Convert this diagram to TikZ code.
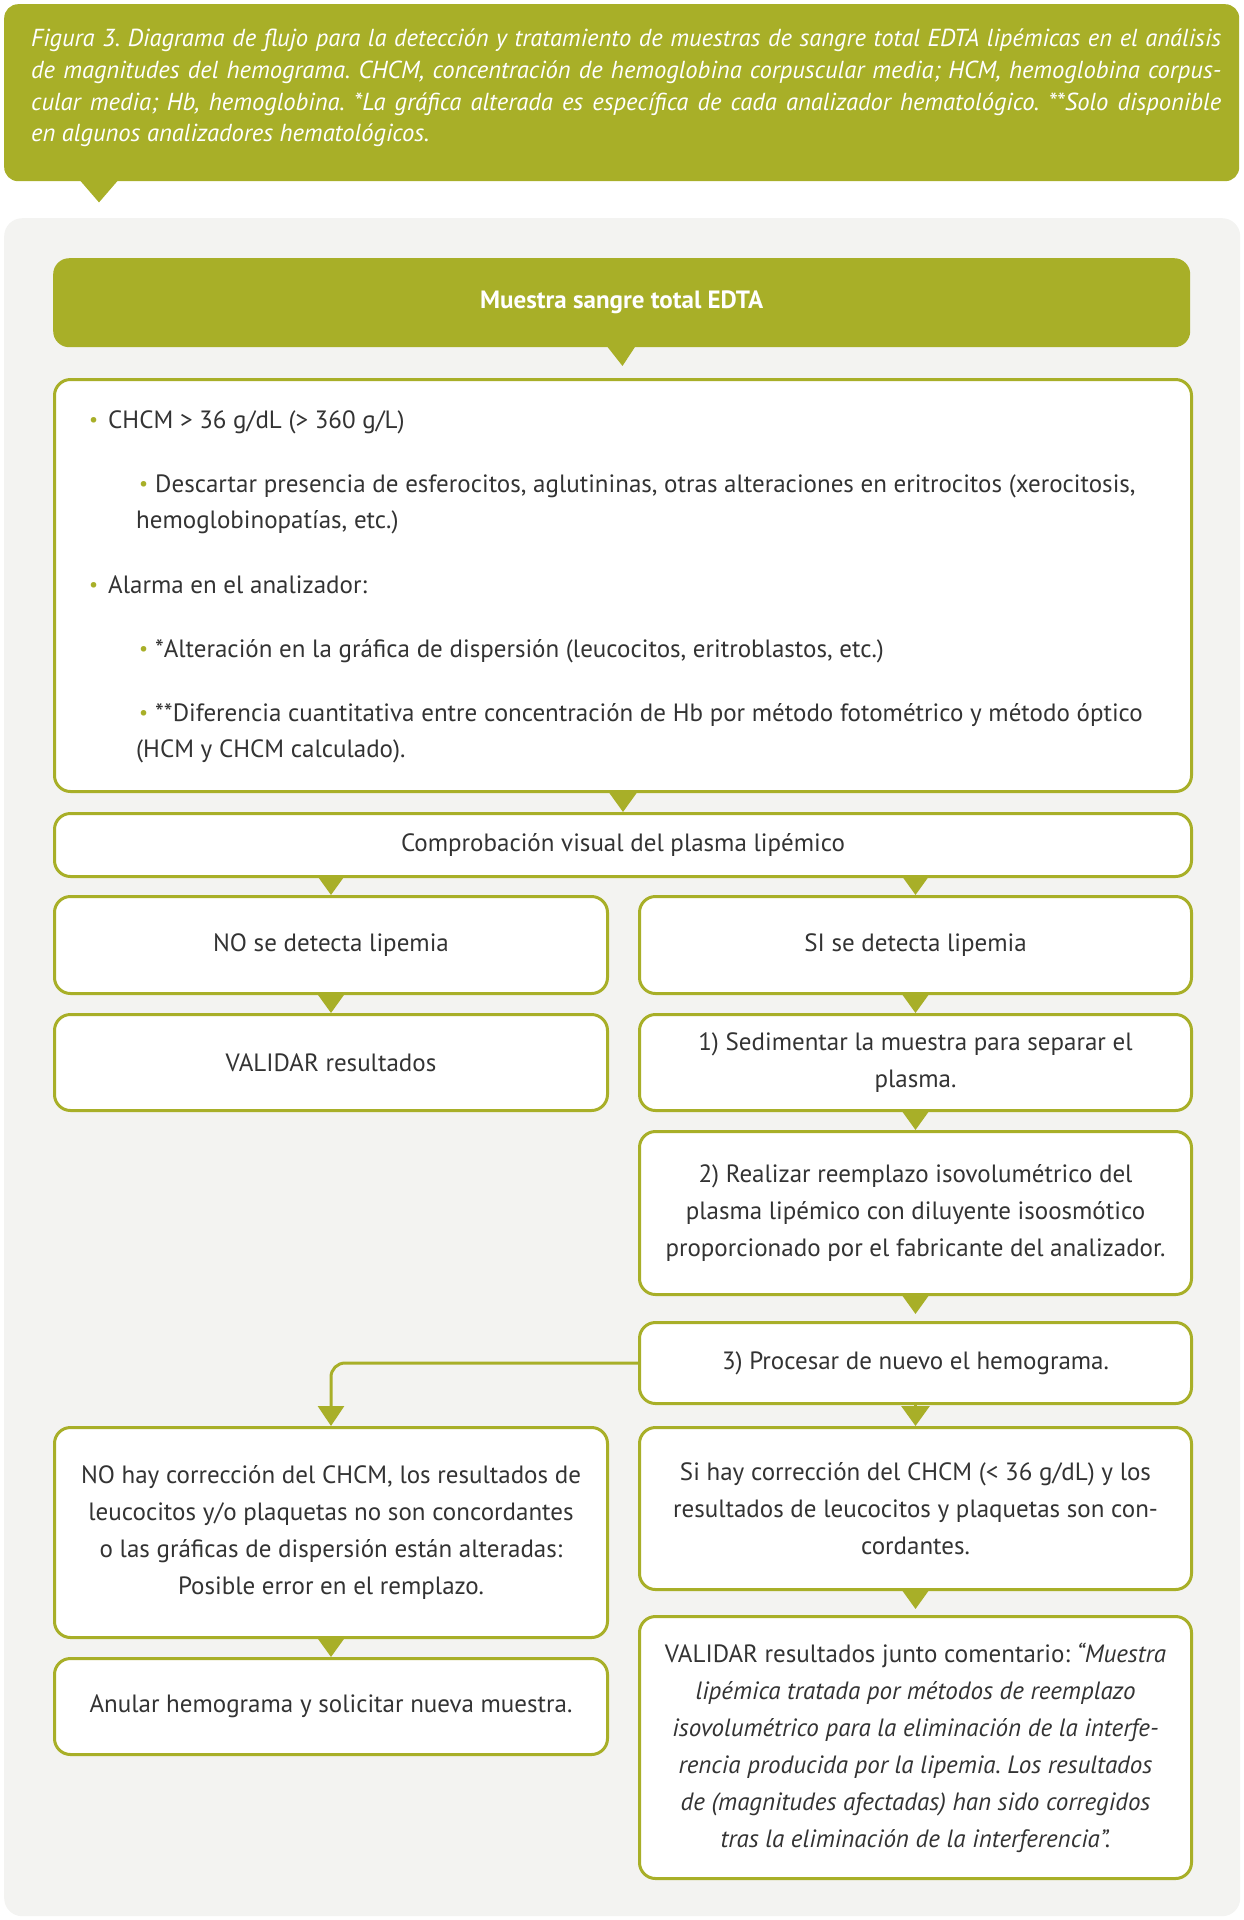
\documentclass[tikz,border=0pt]{standalone}
\usepackage{fontspec}
\setmainfont{PT Sans}
\usetikzlibrary{arrows.meta,calc}
\definecolor{gr}{HTML}{A8AF28}
\definecolor{bgc}{HTML}{F3F3F1}
\definecolor{tx}{HTML}{333333}
\newcommand\bodyfnt{\fontsize{25}{37}\selectfont}
\newcommand\ttlfnt{\fontsize{24.6}{32}\selectfont\itshape}
\newcommand\gbul[1]{\makebox[#1][l]{\textcolor{gr}{\fontsize{20}{20}\selectfont\raisebox{2pt}{•}}}}
\frenchspacing
\begin{document}
\begin{tikzpicture}[x=1pt,y=-1pt,
  box/.style={draw=gr,line width=3pt,rounded corners=16pt,fill=white,text=tx,align=center,inner sep=0pt,font=\bodyfnt,anchor=north west},
  conn/.style={draw=gr,fill=gr,line width=3pt,-{Triangle[width=28pt,length=20pt]}},
  lin/.style={anchor=base west,inner sep=0pt,text=tx,font=\bodyfnt},
  ttl/.style={anchor=base west,inner sep=0pt,text=white,font=\ttlfnt}]
\useasboundingbox (0,0) rectangle (1244,1920);
% header
\node[fill=gr,rounded corners=14pt,anchor=north west,minimum width=1235pt,minimum height=177pt,inner sep=0pt] (hdr) at (4,4) {};
\fill[gr] ($(hdr.south west)+(76,-1)$) -- ($(hdr.south west)+(114,-1)$) -- ($(hdr.south west)+(95,21)$) -- cycle;
\node[ttl] (t1) at (31,46) {\hbox to 1190pt{Figura 3. Diagrama de flujo para la detección y tratamiento de muestras de sangre total EDTA lipémicas en el análisis}};
\node[ttl] (t2) at (31,78) {\hbox to 1190pt{de magnitudes del hemograma. CHCM, concentración de hemoglobina corpuscular media; HCM, hemoglobina corpus-}};
\node[ttl] (t3) at (31,110) {\hbox to 1190pt{cular media; Hb, hemoglobina. *La gráfica alterada es específica de cada analizador hematológico. **Solo disponible}};
\node[ttl] (t4) at (31,141) {en algunos analizadores hematológicos.};
% panel
\node[fill=bgc,rounded corners=18pt,anchor=north west,minimum width=1236pt,minimum height=1698pt,inner sep=0pt] (panel) at (4,218) {};
% top green box
\node[fill=gr,rounded corners=16pt,anchor=north west,minimum width=1137pt,minimum height=89pt,inner sep=0pt,text=white,font=\bodyfnt\bfseries] (top) at (53,258) {Muestra sangre total EDTA};
% bullets box
\node[box,minimum width=1137pt,minimum height=412pt] (b1) at (53,378) {};
\node[lin] (l1) at (89,428) {\gbul{19pt}CHCM > 36 g/dL (> 360 g/L)};
\node[lin] (l2) at (136,492) {\hspace{3pt}\gbul{16pt}Descartar presencia de esferocitos, aglutininas, otras alteraciones en eritrocitos (xerocitosis,};
\node[lin] (l3) at (136,528) {hemoglobinopatías, etc.)};
\node[lin] (l4) at (89,593) {\gbul{19pt}Alarma en el analizador:};
\node[lin] (l5) at (136,657) {\hspace{3pt}\gbul{16pt}*Alteración en la gráfica de dispersión (leucocitos, eritroblastos, etc.)};
\node[lin] (l6) at (136,721) {\hspace{3pt}\gbul{16pt}**Diferencia cuantitativa entre concentración de Hb por método fotométrico y método óptico};
\node[lin] (l7) at (136,757) {(HCM y CHCM calculado).};
% flow boxes
\node[box,minimum width=1137pt,minimum height=63pt] (comp) at (53,812) {Comprobación visual del plasma lipémico};
\node[box,minimum width=553pt,minimum height=97pt] (nod) at (53,895) {NO se detecta lipemia};
\node[box,minimum width=552pt,minimum height=97pt] (sid) at (638,895) {SI se detecta lipemia};
\node[box,minimum width=553pt,minimum height=96pt] (val1) at (53,1013) {VALIDAR resultados};
\node[box,minimum width=552pt,minimum height=96pt] (sed) at (638,1013) {1) Sedimentar la muestra para separar el\\plasma.};
\node[box,minimum width=552pt,minimum height=163pt] (rea) at (638,1130) {2) Realizar reemplazo isovolumétrico del\\plasma lipémico con diluyente isoosmótico\\proporcionado por el fabricante del analizador.};
\node[box,minimum width=552pt,minimum height=81pt] (proc) at (638,1321) {3) Procesar de nuevo el hemograma.};
\node[box,minimum width=553pt,minimum height=210pt] (nohay) at (53,1426) {NO hay corrección del CHCM, los resultados de\\leucocitos y/o plaquetas no son concordantes\\o las gráficas de dispersión están alteradas:\\Posible error en el remplazo.};
\node[box,minimum width=552pt,minimum height=162pt] (sihay) at (638,1426) {Si hay corrección del CHCM (< 36 g/dL) y los\\resultados de leucocitos y plaquetas son con-\\cordantes.};
\node[box,minimum width=553pt,minimum height=96pt] (anu) at (53,1657) {Anular hemograma y solicitar nueva muestra.};
\node[box,minimum width=552pt,minimum height=262pt] (val2) at (638,1615) {VALIDAR resultados junto comentario: \textit{“Muestra}\\\textit{lipémica tratada por métodos de reemplazo}\\\textit{isovolumétrico para la eliminación de la interfe-}\\\textit{rencia producida por la lipemia. Los resultados}\\\textit{de (magnitudes afectadas) han sido corregidos}\\\textit{tras la eliminación de la interferencia”.}};
% connectors
\draw[conn,shorten >=12pt] (top.south) -- (b1.north);
\draw[conn] (b1.south) -- (comp.north);
\draw[conn] (comp.south -| nod.north) -- (nod.north);
\draw[conn] (comp.south -| sid.north) -- (sid.north);
\draw[conn] (nod.south) -- (val1.north);
\draw[conn] (sid.south) -- (sed.north);
\draw[conn] (sed.south) -- (rea.north);
\draw[conn,shorten >=7pt] (rea.south) -- (proc.north);
\draw[conn] (proc.south) -- (sihay.north);
\draw[conn,shorten >=6pt] (sihay.south) -- (val2.north);
\draw[conn] (nohay.south) -- (anu.north);
\draw[draw=gr,line width=3pt,rounded corners=14pt,-{Triangle[width=26pt,length=20pt]}] (proc.west) -| (nohay.north);
\end{tikzpicture}
\end{document}
